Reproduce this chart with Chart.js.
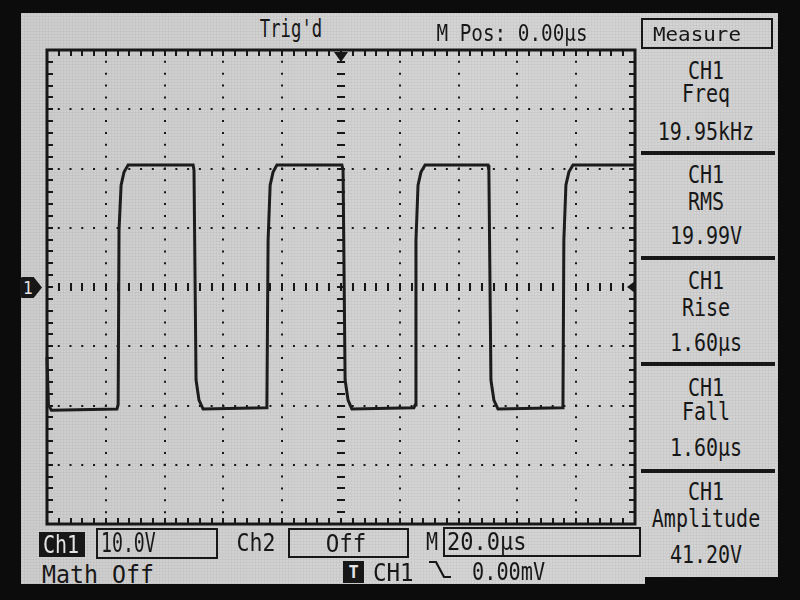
<!DOCTYPE html>
<html>
<head>
<meta charset="utf-8">
<title>CH1 scope capture</title>
<script src="https://cdn.jsdelivr.net/npm/chart.js@4"></script>
<style>
  html, body { margin: 0; padding: 0; }
  body { width: 800px; height: 600px; background: #0c0c0c; position: relative; overflow: hidden;
         font-family: "DejaVu Sans Mono", "Liberation Mono", monospace; color: #171717; }
  #screen { position: absolute; left: 21px; top: 13px; width: 757px; height: 571px;
            background:
              repeating-linear-gradient(0deg, rgba(0,0,0,.035) 0 1px, transparent 1px 3px),
              repeating-linear-gradient(90deg, rgba(0,0,0,.035) 0 1px, transparent 1px 3px),
              linear-gradient(90deg, #cdcdcd, #d5d5d5 60%, #d2d2d2); }
  #cut { position: absolute; left: 645px; top: 577px; width: 155px; height: 23px; background: #0c0c0c; }
  #plot { position: absolute; left: 40px; top: 44px; width: 605px; height: 486px; }
  .t { position: absolute; white-space: nowrap; line-height: 1; }
  .box { position: absolute; border: 2px solid #171717; box-sizing: border-box; }
  .ink { position: absolute; background: #171717; }
  .inv { color: #e4e4e4; }
  #gnd { position: absolute; left: 20px; top: 277px; width: 22px; height: 21px; background: #171717;
         clip-path: polygon(0 12%, 8% 0, 62% 0, 100% 50%, 62% 100%, 8% 100%, 0 88%); }
</style>
</head>
<body>
<div id="screen"></div>
<div id="cut"></div>
<div id="gnd"></div>
<div id="plot"><canvas id="scope"></canvas></div>
<svg style="position:absolute;left:428px;top:560px" width="24" height="20">
  <polyline points="1,2 8,2 16,17 23,17" fill="none" stroke="#171717" stroke-width="2.2"/>
</svg>
<script>
// CH1 trace: time in µs (0 = trigger), volts
const TIME_US = [-100, -99.5, -98.5, -76.2, -75.8, -75.5, -74.8, -73.8, -72.4,
  -50.3, -50.0, -49.3, -48.3, -46.9,
  -25.5, -25.2, -24.8, -24.1, -23.1, -21.8,
  0.3, 0.7, 1.4, 2.4, 3.7,
  24.8, 25.2, 25.5, 26.2, 27.2, 28.6,
  50.0, 50.3, 51.0, 52.0, 53.4,
  75.2, 75.5, 75.8, 76.5, 77.5, 78.9, 100];
const CH1_V = [-11.8, -19.9, -20.8, -20.6, -19.9, 9.6, 17.2, 19.4, 20.6,
  20.6, 19.7, -15.7, -19.1, -20.6,
  -20.4, -19.9, 7.9, 17.2, 19.4, 20.6,
  20.6, 19.7, -15.7, -19.1, -20.6,
  -20.4, -19.9, 7.9, 17.2, 19.4, 20.6,
  20.6, 19.7, -15.7, -19.1, -20.6,
  -20.4, -19.9, 7.9, 17.2, 19.4, 20.6, 20.6];

const T_DIV = 20;      // µs per division, 10 divisions
const V_DIV = 10;      // volts per division, 8 divisions
const X_RANGE = [-100, 100];
const Y_RANGE = [-40, 40];

const MEASURE_NAMES = ['Freq', 'RMS', 'Rise', 'Fall', 'Amplitude'];
const MEASURE_VALUES = ['19.95kHz', '19.99V', '1.60µs', '1.60µs', '41.20V'];

const INK = '#171717';

// text placement: [text, x, y, size, scaleX, align, extra class]
function put(text, x, y, size, sx, align, cls) {
    const el = document.createElement('div');
    el.className = 't' + (cls ? ' ' + cls : '');
    el.textContent = text;
    el.style.left = x + 'px';
    el.style.top = y + 'px';
    el.style.fontSize = size + 'px';
    const left = align === 'left';
    el.style.transformOrigin = left ? '0 50%' : '50% 50%';
    el.style.transform = `translate(${left ? '0' : '-50%'}, -50%) scaleX(${sx})`;
    document.body.appendChild(el);
    return el;
}
function rect(cls, x, y, w, h) {
    const el = document.createElement('div');
    el.className = cls;
    Object.assign(el.style, { left: x + 'px', top: y + 'px', width: w + 'px', height: h + 'px' });
    document.body.appendChild(el);
}

// header
put("Trig'd", 291, 29, 24, 0.72);
put('M Pos: 0.00µs', 512, 33, 23, 0.84);
rect('box', 641, 18, 132, 31);
put('Measure', 697, 34, 19, 1.1);

// measurement panel
const GROUP_Y = [[70, 93, 131], [174, 201, 235], [280, 307, 342], [387, 411, 447], [491, 518, 554]];
MEASURE_NAMES.forEach((name, i) => {
    const [a, b, c] = GROUP_Y[i];
    put('CH1', 706, a, 25, 0.8);
    put(name, 706, b, 25, 0.8);
    put(MEASURE_VALUES[i], 706, c, 25, 0.8);
});
[151, 256, 362, 469].forEach(y => rect('ink', 641, y, 134, 4));

// footer
rect('ink', 39, 532, 46, 25);
put('Ch1', 61, 544, 25, 0.8, null, 'inv');
rect('box', 96, 528, 122, 31);
put('10.0V', 101, 543, 26, 0.7, 'left');
put('Ch2', 256, 542, 25, 0.86);
rect('box', 288, 528, 121, 30);
put('Off', 346, 543, 25, 0.9);
put('M', 432, 541, 25, 0.8);
rect('box', 443, 527, 198, 30);
put('20.0µs', 447, 541, 25, 0.88, 'left');
put('Math Off', 42, 574, 25, 0.93, 'left');
rect('ink', 343, 561, 21, 22);
put('T', 353.5, 572, 17, 1, null, 'inv').style.fontWeight = 'bold';
put('CH1', 373, 572, 25, 0.9, 'left');
put('0.00mV', 472, 571, 25, 0.81, 'left');
put('1', 28, 288, 18, 0.9, null, 'inv');

// graticule frame, minor ticks, centre axes and trigger markers
const graticule = {
    id: 'graticule',
    beforeDatasetsDraw(chart) {
        const { ctx, chartArea: a, scales: { x, y } } = chart;
        const x0 = x.getPixelForValue(0), y0 = y.getPixelForValue(0);
        ctx.save();
        ctx.strokeStyle = INK;
        ctx.fillStyle = INK;
        ctx.lineWidth = 2;
        ctx.beginPath();
        for (let i = 1; i < 50; i++) {
            const px = Math.round(x.getPixelForValue(X_RANGE[0] + i * T_DIV / 5));
            ctx.moveTo(px, a.top); ctx.lineTo(px, a.top + 6);
            ctx.moveTo(px, a.bottom); ctx.lineTo(px, a.bottom - 6);
            ctx.moveTo(px, y0 - 4); ctx.lineTo(px, y0 + 4);
        }
        for (let i = 1; i < 40; i++) {
            const py = Math.round(y.getPixelForValue(Y_RANGE[0] + i * V_DIV / 5));
            ctx.moveTo(a.left, py); ctx.lineTo(a.left + 6, py);
            ctx.moveTo(a.right, py); ctx.lineTo(a.right - 6, py);
            ctx.moveTo(x0 - 4, py); ctx.lineTo(x0 + 4, py);
        }
        ctx.stroke();
        ctx.lineWidth = 3;
        ctx.strokeRect(a.left, a.top, a.width, a.height);
        // trigger position (top) and trigger level (right)
        ctx.beginPath();
        ctx.moveTo(x0 - 7, a.top + 2); ctx.lineTo(x0 + 7, a.top + 2); ctx.lineTo(x0, a.top + 12);
        ctx.closePath(); ctx.fill();
        ctx.beginPath();
        ctx.moveTo(a.right, y0 - 6); ctx.lineTo(a.right, y0 + 6); ctx.lineTo(a.right - 8, y0);
        ctx.closePath(); ctx.fill();
        ctx.restore();
    }
};

const hideCentre = c => (c.tick && c.tick.value === 0) ? 'rgba(0,0,0,0)' : INK;

new Chart(document.getElementById('scope'), {
    type: 'line',
    data: {
        datasets: [{
            label: 'CH1',
            data: TIME_US.map((t, i) => ({ x: t, y: CH1_V[i] })),
            borderColor: '#1c1c1c',
            borderWidth: 3,
            pointRadius: 0,
            tension: 0,
            clip: 4,
        }],
    },
    options: {
        responsive: true,
        maintainAspectRatio: false,
        animation: false,
        events: [],
        layout: { padding: { left: 7, top: 6, right: 10, bottom: 6 } },
        plugins: { legend: { display: false }, tooltip: { enabled: false } },
        scales: {
            x: {
                type: 'linear', min: X_RANGE[0], max: X_RANGE[1],
                ticks: { display: false, stepSize: T_DIV },
                grid: { color: hideCentre, lineWidth: 2, drawTicks: false },
                border: { display: false, dash: [2, 9.85], dashOffset: 1 },
                afterFit: s => { s.height = 0; },
            },
            y: {
                min: Y_RANGE[0], max: Y_RANGE[1],
                ticks: { display: false, stepSize: V_DIV },
                grid: { color: hideCentre, lineWidth: 2, drawTicks: false },
                border: { display: false, dash: [2, 9.76], dashOffset: 1 },
                afterFit: s => { s.width = 0; },
            },
        },
    },
    plugins: [graticule],
});
</script>
</body>
</html>
